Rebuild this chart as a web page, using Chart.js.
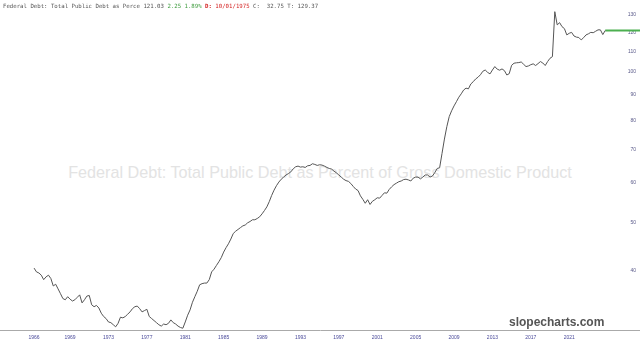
<!DOCTYPE html>
<html>
<head>
<meta charset="utf-8">
<script src="https://cdn.jsdelivr.net/npm/chart.js@4.4.1/dist/chart.umd.min.js"></script>
<style>
  html, body { margin: 0; padding: 0; background: #fff; }
  #wrap { position: relative; width: 640px; height: 346px; overflow: hidden; }
  #chart { position: absolute; left: 0; top: 0; }
  #watermark {
    position: absolute; left: 0; width: 640px; top: 163px;
    text-align: center; font: 16.2px "Liberation Sans", Arial, sans-serif;
    color: #e3e3e3; white-space: nowrap;
  }
  #header {
    position: absolute; left: 3px; top: 3px; white-space: nowrap;
    font: 5.7px "DejaVu Sans Mono", monospace; color: #555;
  }
  #header .up { color: #3a9a3a; }
  #header .date { color: #d42020; }
  #brand {
    position: absolute; left: 509px; top: 315px; white-space: nowrap;
    font: bold 12px "Liberation Sans", Arial, sans-serif; color: #555;
  }
</style>
</head>
<body>
<div id="wrap">
  <div id="watermark">Federal Debt: Total Public Debt as Percent of Gross Domestic Product</div>
  <canvas id="chart" width="640" height="346"></canvas>
  <div id="header">Federal Debt: Total Public Debt as Perce 121.03 <span class="up">2.25 1.89%</span> <span class="date"><b>D:</b> 10/01/1975</span> C:&nbsp; 32.75 T: 129.37</div>
  <div id="brand">slopecharts.com</div>
</div>
<script>
// Quarterly series, first quarter 1966 Q1
const startYear = 1966;
const debtPct = [
  40.5, 39.8, 39.6, 39.2,   38.4, 38.9, 39.2, 38.6,   37.3, 37.6, 36.8, 36.0,
  35.2, 35.0, 35.5, 35.1,   34.8, 35.0, 35.4, 35.8,   34.5, 35.0, 35.6, 35.7,
  34.2, 33.9, 34.1, 33.7,   32.9, 32.4, 32.1, 31.6,   31.5, 31.2, 30.9, 31.4,
  32.3, 32.2, 32.4, 32.75,  33.1, 33.6, 33.9, 34.0,   33.6, 33.1, 33.3, 33.5,
  32.4, 32.1, 31.8, 31.5,   31.2, 31.0, 31.3, 31.2,   31.4, 31.9, 31.5, 31.3,
  31.0, 30.8, 30.7, 31.6,   32.6, 33.4, 34.6, 35.5,   36.4, 37.5, 37.7, 37.8,
  37.8, 38.4, 39.8, 40.3,   41.0, 41.7, 42.5, 43.6,   44.5, 45.3, 46.3, 47.5,
  48.0, 48.4, 48.8, 49.2,   49.4, 49.9, 50.2, 50.6,   50.6, 50.9, 51.3, 52.0,
  52.8, 53.7, 55.0, 56.6,   58.0, 59.2, 60.2, 61.0,   61.6, 62.2, 62.6, 63.1,
  64.0, 64.6, 64.8, 64.5,   64.6, 64.4, 64.9, 65.0,   65.5, 65.3, 65.0, 65.2,
  65.1, 64.8, 64.4, 64.1,   63.9, 63.3, 62.8, 62.2,   61.6, 61.0, 60.6, 60.4,
  59.8, 59.0, 58.3, 57.9,   56.5, 55.6, 54.6, 55.5,   54.3, 55.1, 55.5, 56.0,
  55.9, 56.6, 57.3, 57.2,   58.2, 58.9, 59.5, 59.9,   60.3, 60.5, 60.9, 61.0,
  60.8, 60.5, 61.3, 61.6,   61.6, 61.1, 61.6, 62.2,   62.2, 61.6, 61.9, 62.9,
  64.1, 64.3, 68.7, 73.4,   77.7, 81.4, 83.6, 85.5,   87.2, 89.0, 90.4, 92.0,
  92.8, 92.5, 94.6, 95.6,   96.8, 97.6, 98.7, 100.3,  100.9, 99.8, 99.1, 100.9,
  102.5, 101.3, 100.8, 101.4, 100.6, 98.6, 99.2, 103.1, 104.1, 104.3, 104.4, 104.7,
  103.6, 102.5, 102.8, 103.4, 103.8, 103.0, 103.9, 104.9, 104.2, 103.0, 104.9, 106.5,
  107.3, 132.0, 124.2, 125.5, 123.2, 122.1, 118.6, 119.5, 120.0, 118.0, 117.4, 117.2,
  115.9, 117.1, 118.6, 119.2, 120.0, 119.8, 120.6, 121.4, 121.4, 118.78, 121.03
];
const quarterLabels = debtPct.map((_, i) => (startYear + Math.floor(i / 4)) + ' Q' + (i % 4 + 1));
const xTickIndex = [0, 15, 31, 47, 63, 79, 95, 111, 127, 143, 159, 175, 191, 207, 223];
const yTicks = [40, 50, 60, 70, 80, 90, 100, 110, 120, 130];

const lastIdx = debtPct.length - 1;
const xMin = -14.2, xMax = 252.5;

const axisFont = { family: "'Liberation Sans', Arial, sans-serif", size: 5 };

new Chart(document.getElementById('chart'), {
  type: 'line',
  data: {
    datasets: [
      {
        data: debtPct.map((v, i) => ({ x: i, y: v })),
        borderColor: '#555',
        borderWidth: 1,
        pointRadius: 0,
        tension: 0
      },
      {
        // current value marker line
        data: [{ x: lastIdx, y: debtPct[lastIdx] }, { x: xMax, y: debtPct[lastIdx] }],
        borderColor: '#4caf50',
        borderWidth: 2,
        pointRadius: 0
      }
    ]
  },
  options: {
    responsive: false,
    animation: false,
    layout: { padding: 0 },
    plugins: { legend: { display: false }, tooltip: { enabled: false } },
    scales: {
      x: {
        type: 'linear',
        min: xMin,
        max: xMax,
        grid: { display: false, drawTicks: false },
        border: { display: true, color: '#aaa', width: 1 },
        afterBuildTicks: s => { s.ticks = xTickIndex.map(v => ({ value: v })); },
        afterFit: s => { s.height = 16; s.paddingLeft = 0; s.paddingRight = 0; },
        ticks: {
          autoSkip: false,
          maxRotation: 0,
          padding: 5,
          color: '#4a4a9a',
          font: axisFont,
          callback: v => quarterLabels[v] ? quarterLabels[v].slice(0, 4) : ''
        }
      },
      y: {
        type: 'logarithmic',
        position: 'right',
        min: 30.45,
        max: 139.3,
        grid: { display: false, drawTicks: false },
        border: { display: false },
        afterBuildTicks: s => { s.ticks = yTicks.map(v => ({ value: v })); },
        afterFit: s => { s.width = 0; s.paddingTop = 0; s.paddingBottom = 0; },
        ticks: {
          mirror: true,
          padding: -4,
          color: '#5a5a8a',
          font: axisFont,
          callback: v => String(v)
        }
      }
    }
  }
});
</script>
</body>
</html>
